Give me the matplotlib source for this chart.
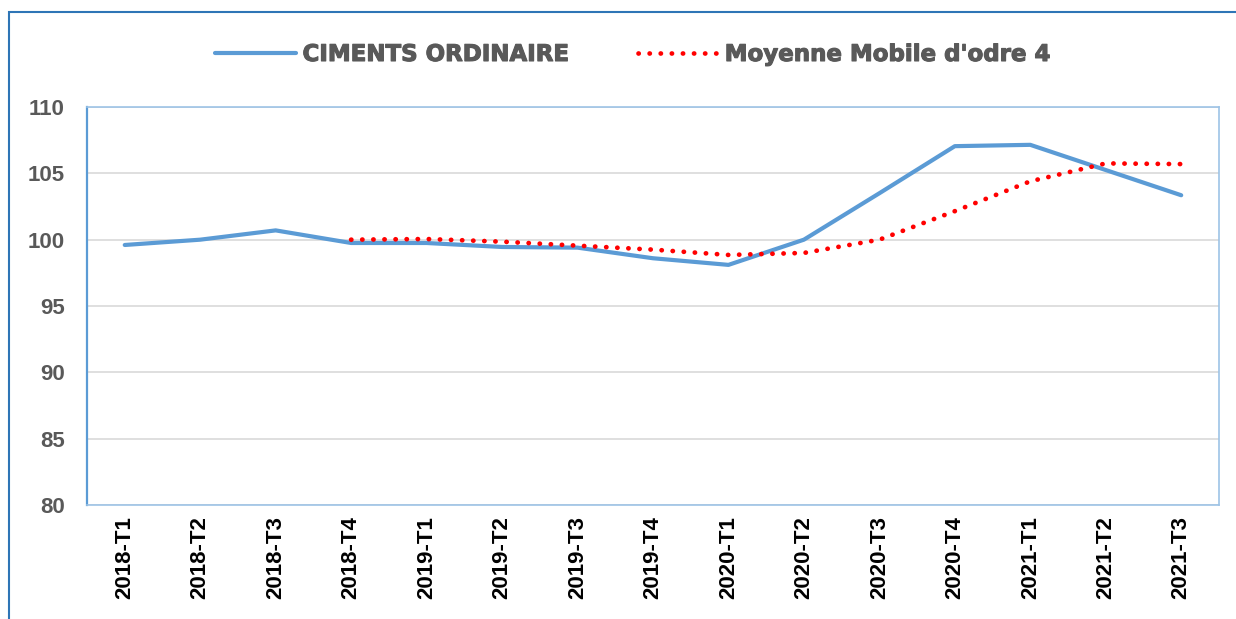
import numpy as np
import matplotlib.pyplot as plt
import matplotlib.patheffects as pe
from matplotlib.patches import Rectangle

plt.rcParams['font.family'] = ['Liberation Sans', 'DejaVu Sans']

trimestres = ['2018-T1', '2018-T2', '2018-T3', '2018-T4',
              '2019-T1', '2019-T2', '2019-T3', '2019-T4',
              '2020-T1', '2020-T2', '2020-T3', '2020-T4',
              '2021-T1', '2021-T2', '2021-T3']
ciments = [99.6, 100.0, 100.7, 99.75, 99.75, 99.45, 99.4, 98.6,
           98.1, 100.0, 103.5, 107.05, 107.15, 105.25, 103.35]
moy_mobile = [np.nan, np.nan, np.nan, 100.0, 100.05, 99.85, 99.55, 99.25,
              98.85, 99.0, 100.0, 102.15, 104.4, 105.75, 105.7]
y_ticks = [80, 85, 90, 95, 100, 105, 110]

gris = '#595959'
bleu = '#5B9BD5'

fig = plt.figure(figsize=(12.36, 6.19), dpi=100)
ax = fig.add_axes([0.0704, 0.1842, 0.9158, 0.6429])

x = np.arange(len(trimestres))
ax.plot(x, ciments, color=bleu, lw=3, solid_capstyle='round',
        label='CIMENTS ORDINAIRE', zorder=3)
ax.plot(x, moy_mobile, color='#FF0000', lw=3.4, linestyle=(0, (0.05, 2.3)),
        dash_capstyle='round', label="Moyenne Mobile d'odre 4", zorder=4)

ax.set_xlim(-0.5, len(trimestres) - 0.5)
ax.set_ylim(80, 110)
ax.set_yticks(y_ticks)
ax.set_xticks(x)
ax.set_xticklabels(trimestres, rotation=90)
ax.tick_params(axis='both', length=0, labelsize=16, labelcolor=gris)
ax.tick_params(axis='y', pad=16)
ax.tick_params(axis='x', pad=8, labelcolor='black')
for lab in ax.get_xticklabels() + ax.get_yticklabels():
    lab.set_fontweight('bold')

ax.grid(axis='y', color='#D9D9D9', lw=1.2)
ax.set_axisbelow(True)
for sp in ax.spines.values():
    sp.set_color('#9DC3E6')
    sp.set_linewidth(1.2)
ax.spines['left'].set_color(bleu)
ax.spines['left'].set_linewidth(1.6)

leg = fig.legend(loc='center', bbox_to_anchor=(0.5117, 0.912), ncol=2,
                 frameon=False, handlelength=3.5, handletextpad=0.3,
                 columnspacing=3.0,
                 prop={'family': 'DejaVu Sans', 'size': 16.5, 'weight': 'bold'})
for t in leg.get_texts():
    t.set_color(gris)
    t.set_path_effects([pe.withStroke(linewidth=0.8, foreground=gris)])

# cadre exterieur
fig.patches.append(Rectangle((0.0073, -0.1), 1.1, 1.0806, transform=fig.transFigure,
                             fill=False, edgecolor='#2E75B6', lw=1.5))

fig.savefig('out.png', dpi=100)
